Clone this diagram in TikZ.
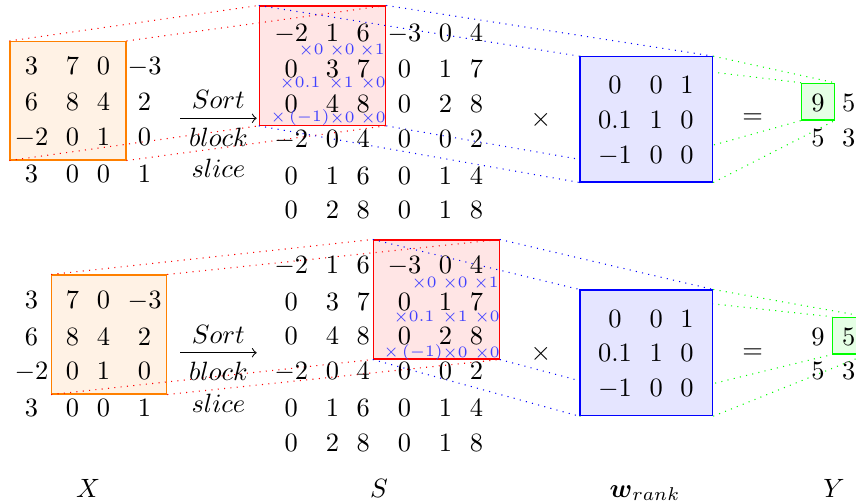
\documentclass[tikz,border=0pt]{standalone}
\usepackage{amsmath}
\usetikzlibrary{matrix,fit}
\pgfdeclarelayer{bottom}
\pgfdeclarelayer{back}
\pgfsetlayers{bottom,back,main}
\tikzstyle{mat}=[matrix of math nodes]
\tikzstyle{box}=[rectangle,inner sep=0pt]
\tikzstyle{wt}=[font=\fontsize{6}{7}\selectfont,text=blue!75,inner sep=0pt]
\tikzstyle{link}=[dotted]

\begin{document}
\begin{tikzpicture}[x=0.378pt,y=-0.378pt]
    \useasboundingbox (0,0) rectangle (856,504);

    % highlighted blocks
    \begin{pgfonlayer}{bottom}
    \node (BX1) [box,draw=orange,fill=orange!10,fit={(10,41.5) (126,160)}] {};
    \node (BS1) [box,draw=red,fill=red!10,fit={(259.3,6) (385.7,125.3)}] {};
    \node (BX2) [box,draw=orange,fill=orange!10,fit={(51.7,275) (166.7,394)}] {};
    \node (BS2) [box,draw=red,fill=red!10,fit={(373.3,240) (499.3,359)}] {};
    \end{pgfonlayer}

    \node (BW1) [box,draw=blue,fill=blue!10,fit={(580,56.7) (712.7,182)}] {};
    \node (BY1) [box,draw=green,fill=green!10,fit={(801.7,83.3) (834.3,120)}] {};
    \node (BW2) [box,draw=blue,fill=blue!10,fit={(580,290) (712.7,415.7)}] {};
    \node (BY2) [box,draw=green,fill=green!10,fit={(832.7,317.3) (866,354)}] {};

    % projection lines
    \begin{pgfonlayer}{back}
    \draw[link,red] (BX1.north west) -- (BS1.north west) (BX1.north east) -- (BS1.north east)
                    (BX1.south west) -- (BS1.south west) (BX1.south east) -- (BS1.south east);
    \draw[link,blue] (BS1.north west) -- (BW1.north west) (BS1.north east) -- (BW1.north east)
                     (BS1.south west) -- (BW1.south west) (BS1.south east) -- (BW1.south east);
    \draw[link,green] (BW1.north west) -- (BY1.north west) (BW1.north east) -- (BY1.north east)
                      (BW1.south west) -- (BY1.south west) (BW1.south east) -- (BY1.south east);

    \draw[link,red] (BX2.north west) -- (BS2.north west) (BX2.north east) -- (BS2.north east)
                    (BX2.south west) -- (BS2.south west) (BX2.south east) -- (BS2.south east);
    \draw[link,blue] (BS2.north west) -- (BW2.north west) (BS2.north east) -- (BW2.north east)
                     (BS2.south west) -- (BW2.south west) (BS2.south east) -- (BW2.south east);
    \draw[link,green] (BW2.north west) -- (BY2.north west) (BW2.north east) -- (BY2.north east)
                      (BW2.south west) -- (BY2.south west) (BW2.south east) -- (BY2.south east);
    \end{pgfonlayer}

    % matrices
    \matrix (X1) at (88,119.8) [mat] {
        3 & 7 & 0 & -3 \\
        6 & 8 & 4 & 2 \\
        -2 & 0 & 1 & 0 \\
        3 & 0 & 0 & 1 \\
    };
    \matrix (S1) at (378.7,121.5) [mat] {
        -2 & 1 & 6 & -3 & 0 & 4 \\
        0 & 3 & 7 & 0 & 1 & 7 \\
        0 & 4 & 8 & 0 & 2 & 8 \\
        -2 & 0 & 4 & 0 & 0 & 2 \\
        0 & 1 & 6 & 0 & 1 & 4 \\
        0 & 2 & 8 & 0 & 1 & 8 \\
    };
    \matrix (W1) at (645.9,120.9) [mat] {
        0 & 0 & 1 \\
        0.1 & 1 & 0 \\
        -1 & 0 & 0 \\
    };
    \matrix (Y1) at (833.3,120.7) [mat] {
        9 & 5 \\
        5 & 3 \\
    };

    \matrix (X2) at (88,354.1) [mat] {
        3 & 7 & 0 & -3 \\
        6 & 8 & 4 & 2 \\
        -2 & 0 & 1 & 0 \\
        3 & 0 & 0 & 1 \\
    };
    \matrix (S2) at (378.7,353.6) [mat] {
        -2 & 1 & 6 & -3 & 0 & 4 \\
        0 & 3 & 7 & 0 & 1 & 7 \\
        0 & 4 & 8 & 0 & 2 & 8 \\
        -2 & 0 & 4 & 0 & 0 & 2 \\
        0 & 1 & 6 & 0 & 1 & 4 \\
        0 & 2 & 8 & 0 & 1 & 8 \\
    };
    \matrix (W2) at (645.9,354.3) [mat] {
        0 & 0 & 1 \\
        0.1 & 1 & 0 \\
        -1 & 0 & 0 \\
    };
    \matrix (Y2) at (833.3,354) [mat] {
        9 & 5 \\
        5 & 3 \\
    };

    % weights under the block entries
    \node (a11) at (311,50) [wt] {$\times 0$};
    \node (a12) at (342,50) [wt] {$\times 0$};
    \node (a13) at (372,50) [wt] {$\times 1$};
    \node (a21) at (300,83) [wt] {$\times 0.1$};
    \node (a22) at (341,83) [wt] {$\times 1$};
    \node (a23) at (373,83) [wt] {$\times 0$};
    \node (a31) at (300,118) [wt] {$\times\,(-1)$};
    \node (a32) at (342,118) [wt] {$\times 0$};
    \node (a33) at (373,118) [wt] {$\times 0$};

    \node (b11) at (424,283) [wt] {$\times 0$};
    \node (b12) at (455,283) [wt] {$\times 0$};
    \node (b13) at (486,283) [wt] {$\times 1$};
    \node (b21) at (414,317) [wt] {$\times 0.1$};
    \node (b22) at (455,317) [wt] {$\times 1$};
    \node (b23) at (487,317) [wt] {$\times 0$};
    \node (b31) at (413,353) [wt] {$\times\,(-1)$};
    \node (b32) at (455,353) [wt] {$\times 0$};
    \node (b33) at (487,353) [wt] {$\times 0$};

    % sort arrows and operators
    \coordinate (p1) at (180,118.3);
    \coordinate (q1) at (256.7,118.3);
    \draw[->] (p1) -- node[above] {$Sort$} node[below,align=center] {$block$\\$slice$} (q1);
    \coordinate (p2) at (180,352.7);
    \coordinate (q2) at (256.7,352.7);
    \draw[->] (p2) -- node[above] {$Sort$} node[below,align=center] {$block$\\$slice$} (q2);

    \node (T1) at (541,120) {$\times$};
    \node (E1) at (752.7,118.5) {$=$};
    \node (T2) at (541,354) {$\times$};
    \node (E2) at (752.7,353.5) {$=$};

    % names
    \node (LX) at (88,497) [anchor=base] {$X$};
    \node (LS) at (379,497) [anchor=base] {$S$};
    \node (LW) at (645,497) [anchor=base] {$\boldsymbol{w}_{rank}$};
    \node (LY) at (834,497) [anchor=base] {$Y$};
\end{tikzpicture}
\end{document}
